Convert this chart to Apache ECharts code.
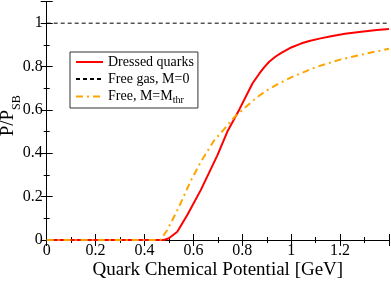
<!DOCTYPE html>
<html><head><meta charset="utf-8">
<script src="https://cdn.jsdelivr.net/npm/echarts@6/dist/echarts.min.js"></script>
<style>html,body{margin:0;padding:0;background:#fff}#c{width:391px;height:281px}</style>
</head><body><div id="c"></div>
<script>
var dressedX = [0, 0.45, 0.48, 0.5, 0.534, 0.575, 0.63, 0.698, 0.739, 0.787, 0.842, 0.87, 0.89, 0.91, 0.935, 0.958, 1.0, 1.04, 1.074, 1.12, 1.163, 1.22, 1.287, 1.35, 1.4];
var dressedY = [0, 0, 0, 0.008, 0.038, 0.115, 0.23, 0.39, 0.5, 0.6, 0.723, 0.768, 0.797, 0.822, 0.845, 0.862, 0.888, 0.906, 0.918, 0.93, 0.94, 0.951, 0.961, 0.968, 0.973];
var freeX = [0, 1.4];
var freeY = [1, 1];
var thrX = [0, 0.465, 0.472, 0.493, 0.54, 0.588, 0.63, 0.684, 0.725, 0.766, 0.821, 0.86, 0.9, 0.95, 1.0, 1.1, 1.2, 1.3, 1.4];
var thrY = [0, 0, 0.008, 0.046, 0.15, 0.27, 0.36, 0.458, 0.51, 0.565, 0.62, 0.658, 0.69, 0.722, 0.75, 0.797, 0.832, 0.858, 0.882];
var seriesNames = ['Dressed quarks', 'Free gas, M=0', 'Free, M=Mthr'];
var xTitle = 'Quark Chemical Potential [GeV]';

function pairs(xs, ys){ return xs.map(function(x,i){return [x, ys[i]];}); }
var FONT = 'Liberation Serif';
var tickFmt = function(v){ return String(Math.round(v*10)/10); };
var chart = echarts.init(document.getElementById('c'), null, {renderer:'canvas'});
var axisCommon = {
  axisLine:{lineStyle:{color:'#000',width:1}},
  axisTick:{inside:true,length:6,lineStyle:{color:'#000'}},
  minorTick:{show:true,splitNumber:2,length:3,lineStyle:{color:'#000'}},
  splitLine:{show:false}
};
chart.setOption({
  animation:false,
  textStyle:{fontFamily:FONT},
  grid:{left:46.7,right:2,top:1.5,bottom:41,containLabel:false,outerBoundsMode:'none'},
  legend:{
    orient:'vertical', left:70, top:52,
    borderColor:'#333', borderWidth:1, padding:[2,4,3,5], itemGap:1,
    itemWidth:27, itemHeight:10,
    itemStyle:{opacity:0},
    data: seriesNames,
    formatter:function(n){ return n==='Free, M=Mthr' ? '{n|Free, M=M}{s|thr}' : '{n|'+n+'}'; },
    textStyle:{fontFamily:FONT,fontSize:14,color:'#000',lineHeight:16,
      rich:{n:{fontFamily:FONT,fontSize:14,color:'#000',lineHeight:16},
            s:{fontFamily:FONT,fontSize:10,color:'#000',padding:[7,0,0,0],lineHeight:16}}}
  },
  xAxis:[
    Object.assign({type:'value',min:0,max:1.4,interval:0.2,position:'bottom',
      name:xTitle,nameLocation:'middle',nameGap:21,nameMoveOverlap:false,
      nameTextStyle:{fontFamily:FONT,fontSize:19,color:'#000'},
      axisLabel:{color:'#000',fontFamily:FONT,fontSize:16,margin:3,showMaxLabel:false,formatter:tickFmt}},axisCommon),
    Object.assign({type:'value',min:0,max:1.4,interval:0.2,position:'top',axisLabel:{show:false}},axisCommon)
  ],
  yAxis:[
    Object.assign({type:'value',min:0,max:1.1,interval:0.2,position:'left',
      name:'{p|P/P}{s|SB}',nameLocation:'middle',nameGap:24,nameRotate:90,nameMoveOverlap:false,
      nameTextStyle:{fontFamily:FONT,color:'#000',padding:[0,0,0,10],rich:{p:{fontFamily:FONT,fontSize:19,color:'#000'},s:{fontFamily:FONT,fontSize:12,color:'#000',padding:[17,0,0,0]}}},
      axisLabel:{color:'#000',fontFamily:FONT,fontSize:16,margin:4,showMaxLabel:false,formatter:tickFmt}},axisCommon),
    Object.assign({type:'value',min:0,max:1.1,interval:0.2,position:'right',axisLabel:{show:false}},axisCommon)
  ],
  series:[
    {name:seriesNames[0],type:'line',data:pairs(dressedX,dressedY),symbol:'none',z:2,
      lineStyle:{color:'#ff0000',width:2},itemStyle:{color:'#ff0000'}},
    {name:seriesNames[1],type:'line',data:pairs(freeX,freeY),symbol:'none',z:3,
      lineStyle:{color:'#000',width:1,type:[4,3]},itemStyle:{color:'#000'}},
    {name:seriesNames[2],type:'line',data:pairs(thrX,thrY),symbol:'none',z:4,
      lineStyle:{color:'#ffa500',width:2,type:[7,4,2,4]},itemStyle:{color:'#ffa500'}}
  ]
});
</script></body></html>
